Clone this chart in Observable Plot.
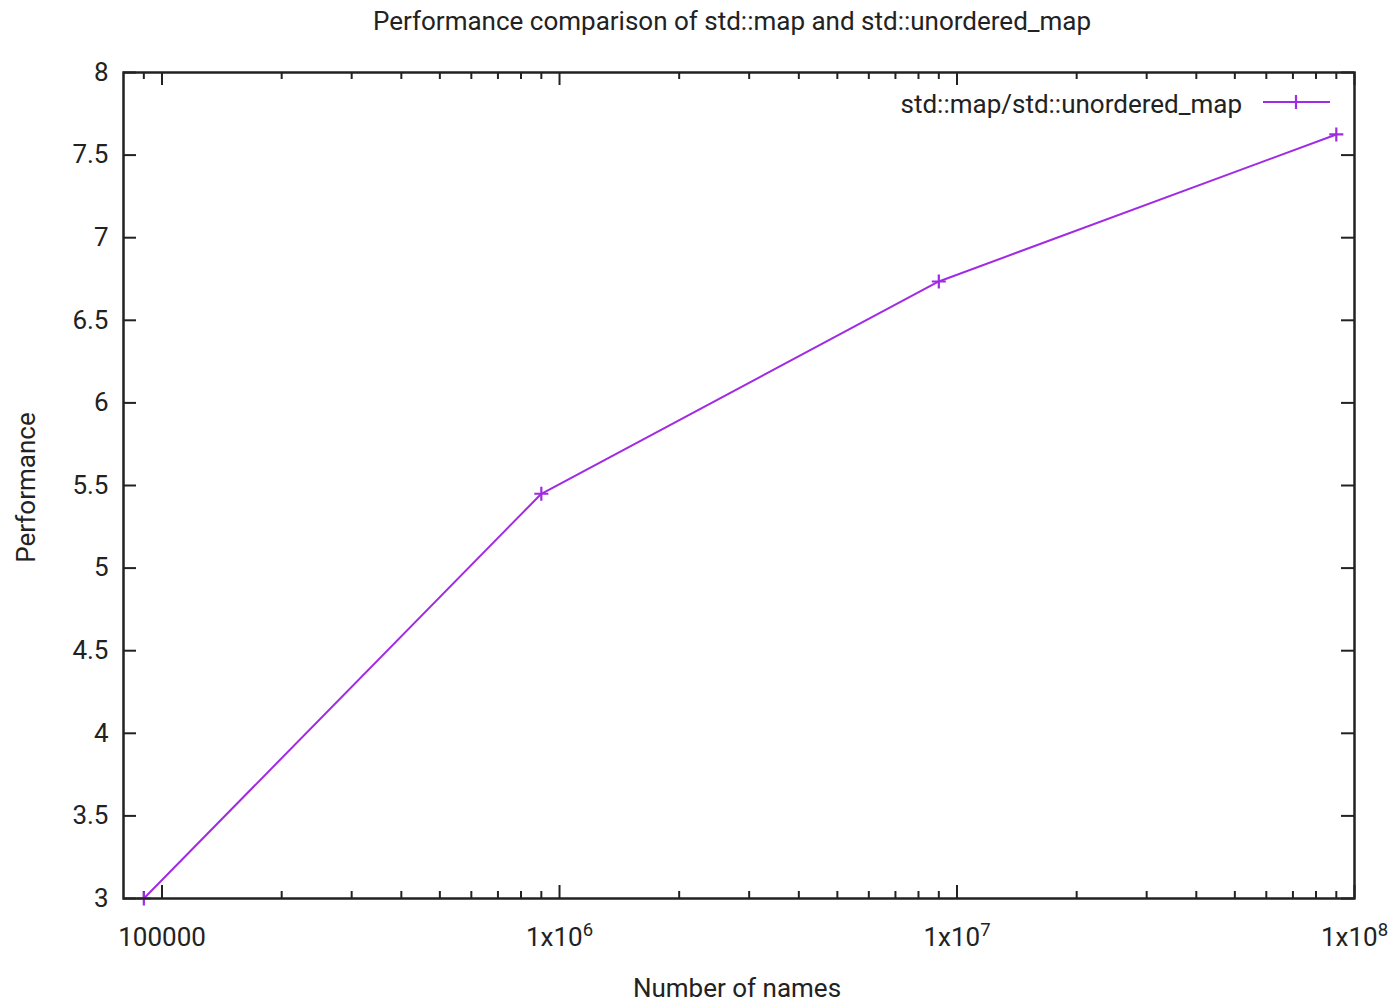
<!DOCTYPE html>
<html>
<head>
<meta charset="utf-8">
<script src="https://cdn.jsdelivr.net/npm/d3@7"></script>
<script src="https://cdn.jsdelivr.net/npm/@observablehq/plot@0.6"></script>
<style>
  html, body { margin: 0; padding: 0; background: #fff; }
  svg { display: block; }
</style>
</head>
<body>
<div id="chart"></div>
<script>
// ---- data ----
const names = [90000, 900000, 9000000, 90000000];
const performance = [3.0, 5.45, 6.735, 7.625];
const seriesName = "std::map/std::unordered_map";

const xMajorTicks = [1e5, 1e6, 1e7, 1e8];
const xMajorLabels = ["100000", "1x10^6", "1x10^7", "1x10^8"];
const xMinorTicks = [9e4,
  2e5, 3e5, 4e5, 5e5, 6e5, 7e5, 8e5, 9e5,
  2e6, 3e6, 4e6, 5e6, 6e6, 7e6, 8e6, 9e6,
  2e7, 3e7, 4e7, 5e7, 6e7, 7e7, 8e7, 9e7];
const yTicks = [3, 3.5, 4, 4.5, 5, 5.5, 6, 6.5, 7, 7.5, 8];
const yTickLabels = ["3", "3.5", "4", "4.5", "5", "5.5", "6", "6.5", "7", "7.5", "8"];

const title = "Performance comparison of std::map and std::unordered_map";
const xLabel = "Number of names";
const yLabel = "Performance";

// ---- layout ----
const W = 1398, H = 1003;
const mL = 123, mR = 44, mT = 72, mB = 105;
const fw = W - mL - mR, fh = H - mT - mB;
const majorLen = 13, minorLen = 7;
const ink = "#222";
const purple = "#a12ae4";
const font = "Roboto, 'Noto Sans', sans-serif";
const fs = 26;

const data = names.map((n, i) => ({n, p: performance[i]}));
const xLab = xMajorTicks.map((v, i) => ({v, t: xMajorLabels[i]}));
const yLab = yTicks.map((v, i) => ({v, t: yTickLabels[i]}));

const plot = Plot.plot({
  width: W, height: H,
  marginLeft: mL, marginRight: mR, marginTop: mT, marginBottom: mB,
  style: {fontFamily: font, fontSize: fs + "px", color: ink, background: "#fff"},
  x: {type: "log", domain: [80000, 1e8], axis: null},
  y: {type: "linear", domain: [3, 8], axis: null},
  marks: [
    // major/minor ticks (inward, mirrored)
    Plot.ruleX(xMajorTicks, {x: d => d, insetTop: fh - majorLen, stroke: ink, strokeWidth: 2}),
    Plot.ruleX(xMajorTicks, {x: d => d, insetBottom: fh - majorLen, stroke: ink, strokeWidth: 2}),
    Plot.ruleX(xMinorTicks, {x: d => d, insetTop: fh - minorLen, stroke: ink, strokeWidth: 2}),
    Plot.ruleX(xMinorTicks, {x: d => d, insetBottom: fh - minorLen, stroke: ink, strokeWidth: 2}),
    Plot.ruleY(yTicks, {y: d => d, insetRight: fw - majorLen, stroke: ink, strokeWidth: 2}),
    Plot.ruleY(yTicks, {y: d => d, insetLeft: fw - majorLen, stroke: ink, strokeWidth: 2}),
    // tick labels
    Plot.text(xLab, {x: "v", text: "t", frameAnchor: "bottom", lineAnchor: "middle", dy: 39, fill: ink, fontSize: fs}),
    Plot.text(yLab, {y: "v", text: "t", frameAnchor: "left", lineAnchor: "middle", dx: -15, textAnchor: "end", fill: ink, fontSize: fs}),
    // data
    Plot.line(data, {x: "n", y: "p", stroke: purple, strokeWidth: 2}),
    Plot.dot(data, {x: "n", y: "p", symbol: "plus", r: 4.6, stroke: purple, strokeWidth: 2.2}),
    // border
    Plot.frame({stroke: ink, strokeWidth: 2.5}),
    // titles
    Plot.text([title], {text: d => d, frameAnchor: "top", lineAnchor: "middle", dx: -7, dy: -51, fill: ink, fontSize: fs}),
    Plot.text([xLabel], {text: d => d, frameAnchor: "bottom", lineAnchor: "middle", dx: -2, dy: 90, fill: ink, fontSize: fs}),
    Plot.text([yLabel], {text: d => d, frameAnchor: "left", textAnchor: "middle", lineAnchor: "middle", dx: -97, dy: 2, rotate: -90, fill: ink, fontSize: fs})
  ]
});

// superscripts in x tick labels
d3.select(plot).selectAll("text").each(function() {
  const s = this.textContent;
  if (s.includes("^")) {
    const [base, sup] = s.split("^");
    const t = d3.select(this);
    t.text(null);
    t.append("tspan").text(base);
    t.append("tspan").attr("dy", -10).attr("font-size", 18.5).text(sup);
  }
});

// legend (top-right, inside frame)
const svg = d3.select(plot);
const lg = svg.append("g");
const lx = W - mR - 112, ly = mT + 30;
lg.append("text").attr("x", lx).attr("y", ly + 3).attr("dy", "0.32em")
  .attr("text-anchor", "end").attr("fill", ink).attr("font-size", fs)
  .attr("font-family", font).text(seriesName);
lg.append("line").attr("x1", lx + 21).attr("x2", lx + 88)
  .attr("y1", ly).attr("y2", ly).attr("stroke", purple).attr("stroke-width", 2);
lg.append("path").attr("transform", `translate(${lx + 54},${ly})`)
  .attr("d", d3.symbol(d3.symbolPlus, Math.PI * 4.6 * 4.6)())
  .attr("fill", "none").attr("stroke", purple).attr("stroke-width", 2.2);

document.getElementById("chart").appendChild(plot);
</script>
</body>
</html>
